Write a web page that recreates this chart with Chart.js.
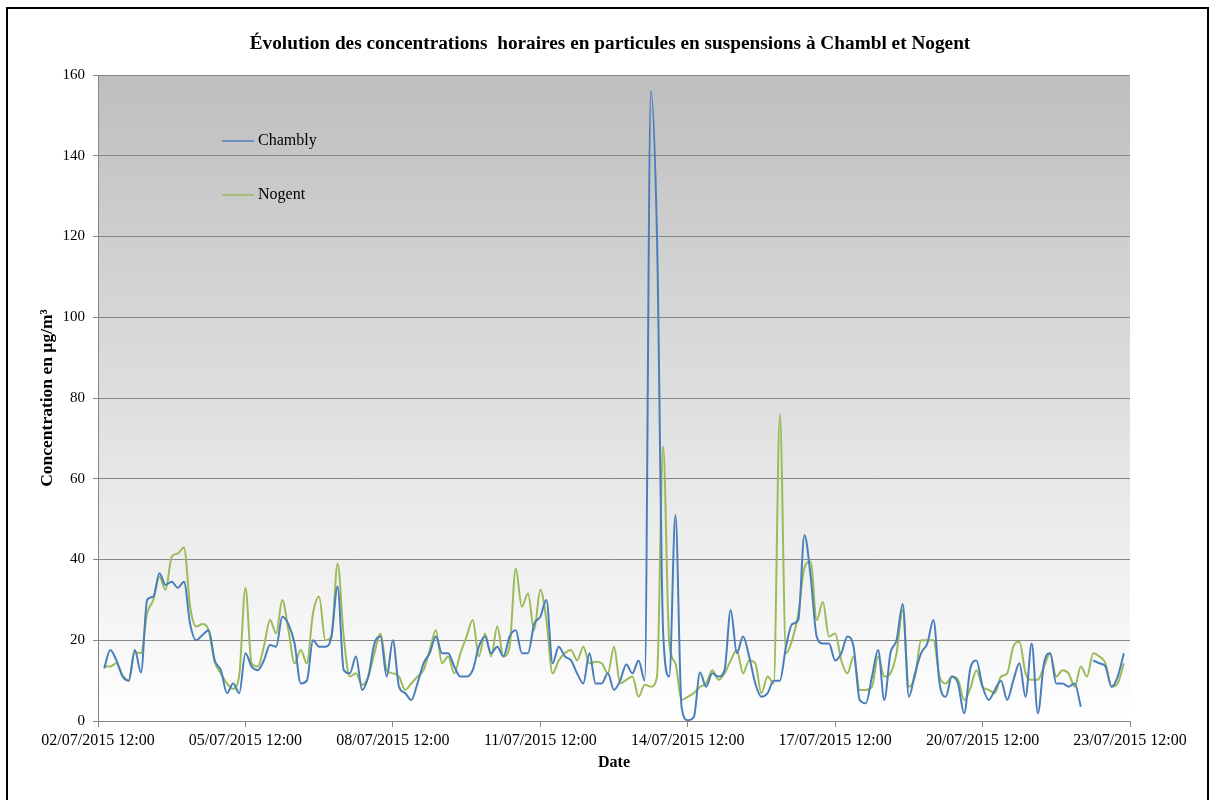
<!DOCTYPE html>
<html>
<head>
<meta charset="utf-8">
<script src="https://cdn.jsdelivr.net/npm/chart.js@4.4.0/dist/chart.umd.min.js"></script>
<style>
  body { margin: 0; background: #fff; }
  #wrap { position: relative; width: 1212px; height: 800px; overflow: hidden; }
  #frame { position: absolute; left: 6px; top: 7px; width: 1199px; height: 800px; border: 2px solid #000; pointer-events: none; }
</style>
</head>
<body>
<div id="wrap">
  <canvas id="pmChart" width="1212" height="800"></canvas>
  <div id="frame"></div>
</div>
<script>
// hourly PM readings, one value every 3 hours from 02/07/2015 15:00
const START_HOUR = 3;
const STEP_HOURS = 3;

const chambly = [
  13, 17.6, 15, 11, 10, 17.6, 12, 30, 30.8, 36.6,
  33.7, 34.5, 33, 34.5, 24, 20, 21.3, 22.5, 15, 12.6,
  6.9, 9.3, 6.9, 16.8, 13.5, 12.6, 15, 18.8, 18.4, 25.8,
  24, 19.2, 9.3, 10, 20, 18.4, 18.4, 20.9, 33.3, 12.6,
  11.8, 16, 7.7, 11, 19.2, 20.9, 11, 20, 8.5, 6.9,
  5.2, 9.3, 14.3, 16.8, 20.9, 16.8, 16.8, 13.5, 11, 11,
  12.6, 18.4, 20.9, 16.8, 18.4, 16, 20.9, 22.5, 16.8, 16.8,
  24, 25.8, 30, 14.3, 18.4, 16, 15, 11.8, 9.3, 16.8,
  9.3, 9.3, 11.8, 7.7, 10, 14, 11.8, 15, 10, 156,
  120, 22, 11, 51, 3.5, 0.2, 1, 12, 8.5, 11.8,
  11, 12.6, 27.5, 16.8, 20.9, 16, 9.3, 6, 6.9, 10,
  10, 18.4, 24, 25, 46, 36, 20.9, 19.2, 19.2, 15,
  16.8, 20.9, 18.4, 5.2, 4.4, 11, 17.6, 5.2, 16.8, 20,
  29, 6, 11.8, 16.8, 19.2, 25, 9.3, 6, 11, 9.3,
  1.9, 13, 15, 8.5, 5.2, 7.7, 10, 5.2, 10, 14.3,
  6, 19.2, 1.9, 14.3, 16.8, 9.3, 9.3, 8.5, 9.3, 3.5,
  null, 15, 14.3, 13.5, 8.5, 11, 16.8
];

const nogent = [
  13.5, 13.5, 14.3, 11.4, 10, 17, 16.8, 26.7, 30, 35.8,
  32.5, 40.7, 41.5, 43, 28.3, 23.4, 24, 22.5, 14.7, 11.8,
  9.3, 8, 11.4, 33, 14.3, 13.5, 18.4, 25, 21.7, 30,
  22.5, 14.3, 17.6, 14.3, 26.7, 30.8, 20, 20.9, 39, 20.9,
  11, 11.8, 8.9, 11, 16.8, 21.7, 12.6, 11.8, 11, 7.7,
  9.3, 11, 12.6, 17.6, 22.5, 14.3, 16, 11.8, 16.8, 20.9,
  25, 16, 21.7, 16, 23.4, 16, 18.4, 37.8, 28.3, 31.6,
  22.5, 32.5, 25, 11.8, 15, 16.8, 17.6, 15, 18.4, 14.3,
  14.7, 14.3, 11.8, 18.4, 9.3, 10.2, 11, 6, 9, 8.5,
  11, 68, 19.2, 14.3, 5.2, 6, 6.9, 8.5, 9.3, 12.6,
  10.2, 11.8, 15, 17.6, 11.8, 15, 14.3, 6.9, 11, 9.3,
  76, 16.8, 20, 26.5, 38, 39.5, 25, 29.5, 20.9, 21.7,
  15, 11.8, 16, 7.7, 7.7, 8.5, 16, 11, 11.8, 16.8,
  27.5, 8.5, 11, 20, 20, 20, 11, 9.3, 11, 10.2,
  5.2, 8, 12.6, 8.5, 7.7, 6.9, 11, 11.8, 18.4, 19.6,
  11.8, 10.2, 10.2, 13.5, 16.8, 11, 12.6, 11.8, 8.5, 13.5,
  11, 16.8, 16, 14.3, 8.5, 9.3, 14.3
];

const dateLabels = [
  '02/07/2015 12:00', '05/07/2015 12:00', '08/07/2015 12:00', '11/07/2015 12:00',
  '14/07/2015 12:00', '17/07/2015 12:00', '20/07/2015 12:00', '23/07/2015 12:00'
];

const chartTitle = 'Évolution des concentrations  horaires en particules en suspensions à Chambl et Nogent';

const toPoints = arr => arr.map((v, i) => ({ x: START_HOUR + i * STEP_HOURS, y: v }));

const serif = '"Liberation Serif", "Times New Roman", serif';
Chart.defaults.font.family = serif;
Chart.defaults.color = '#000';

// grey-to-white fill behind the plot
const plotBackground = {
  id: 'plotBackground',
  beforeDraw(chart) {
    const { ctx, chartArea: a } = chart;
    const g = ctx.createLinearGradient(0, a.top, 0, a.bottom);
    g.addColorStop(0, '#bebebe');
    g.addColorStop(1, '#ffffff');
    ctx.save();
    ctx.fillStyle = g;
    ctx.fillRect(a.left, a.top, a.right - a.left, a.bottom - a.top);
    ctx.restore();
  }
};

// title centred on the whole page, legend inside the plot
const pageText = {
  id: 'pageText',
  afterDatasetsDraw(chart) {
    const { ctx, chartArea: a } = chart;
    ctx.save();
    ctx.fillStyle = '#000';
    ctx.textAlign = 'center';
    ctx.textBaseline = 'middle';
    ctx.font = 'bold 19.3px ' + serif;
    ctx.fillText(chartTitle, chart.width / 2 + 4, 44);

    ctx.textAlign = 'left';
    ctx.font = '16px ' + serif;
    chart.data.datasets.forEach((ds, i) => {
      const x = a.left + 124;
      const y = a.top + 66 + i * 54;
      ctx.strokeStyle = ds.borderColor;
      ctx.lineWidth = 1.5;
      ctx.beginPath();
      ctx.moveTo(x, y);
      ctx.lineTo(x + 32, y);
      ctx.stroke();
      ctx.fillText(ds.label, x + 36, y);
    });
    ctx.restore();
  }
};

new Chart(document.getElementById('pmChart'), {
  type: 'line',
  data: {
    datasets: [
      {
        label: 'Chambly',
        data: toPoints(chambly),
        borderColor: '#4a7ebb',
        borderWidth: 2,
        pointRadius: 0,
        cubicInterpolationMode: 'monotone'
      },
      {
        label: 'Nogent',
        data: toPoints(nogent),
        borderColor: '#9bbb59',
        borderWidth: 2,
        pointRadius: 0,
        cubicInterpolationMode: 'monotone'
      }
    ]
  },
  options: {
    responsive: false,
    animation: false,
    layout: { padding: { left: 36, right: 82, top: 75, bottom: 20 } },
    plugins: {
      legend: { display: false },
      tooltip: { enabled: false },
      title: { display: false }
    },
    scales: {
      x: {
        type: 'linear',
        min: 0,
        max: 504,
        afterFit: s => { s.height = 59; },
        ticks: {
          stepSize: 72,
          autoSkip: false,
          maxRotation: 0,
          padding: 4,
          font: { size: 16 },
          callback: v => dateLabels[v / 72]
        },
        grid: { drawOnChartArea: false, tickLength: 6, color: '#868686' },
        border: { color: '#868686' },
        title: { display: true, text: 'Date', font: { size: 16, weight: 'bold' }, padding: { top: 0, bottom: 8 } }
      },
      y: {
        min: 0,
        max: 160,
        afterFit: s => { s.width = 62; },
        ticks: { stepSize: 20, padding: 8, font: { size: 15 } },
        grid: { color: '#868686', tickLength: 5 },
        border: { color: '#868686' },
        title: { display: true, text: 'Concentration en µg/m³', font: { size: 17.5, weight: 'bold' }, padding: { top: 1, bottom: 0 } }
      }
    }
  },
  plugins: [plotBackground, pageText]
});
</script>
</body>
</html>
